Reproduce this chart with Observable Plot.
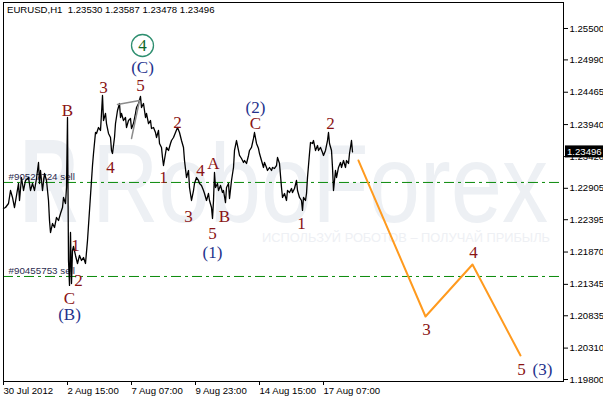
<!DOCTYPE html>
<html>
<head>
<meta charset="utf-8">
<script src="https://cdn.jsdelivr.net/npm/d3@7"></script>
<script src="https://cdn.jsdelivr.net/npm/@observablehq/plot@0.6"></script>
<style>
  body { margin: 0; background: #fff; }
  #chart { width: 603px; height: 400px; }
</style>
</head>
<body>
<div id="chart"></div>
<script>
// EURUSD H1 closes, one point per hourly bar index (0 = 30 Jul 2012 23:00)
const barIndex = [0,2,5,7,9,11,13,15,16,18,20,22,25,27,29,31,33,35,36,37,39,41,43,45,46,47,49,51,53,55,57,59,60,62,63,
  64,65,66,67,68,69,70,72,74,76,78,80,82,84,86,87,88,89,90,92,93,95,97,98,99,100,102,103,105,107,108,109,111,112,114,116,117,118,120,122,123,125,127,128,130,132,133,135,137,138,140,142,143,145,147,148,150,152,153,155,156,158,159,160,162,163,165,167,168,170,172,174,
  176,178,180,181,183,185,186,188,190,191,193,195,196,198,200,201,203,205,206,208,209,210,211,212,214,215,217,219,220,222,223,225,226,228,230,231,233,235,236,238,240,241,243,245,246,248,250,251,253,255,256,258,260,261,
  263,264,266,268,269,271,273,274,276,278,279,281,283,284,286,288,289,291,293,294,296,298,299,300,302,303,304,306,307,309,310,312,314,315,317,319,320,322,324,325,326,328,329,330,332,333,335,337,338,340,342,343,345,346,347,348,349];
const closePrice = [1.22577,1.22593,1.22658,1.22869,1.22756,1.22593,1.22788,1.22983,1.22707,1.23080,1.22869,1.23032,1.23080,1.22869,1.22983,1.22869,1.23064,1.23324,1.22983,1.23194,1.22869,1.23145,1.23032,1.22707,1.22382,1.22187,1.22333,1.22268,1.22431,1.22382,1.22496,1.22593,1.22756,1.22658,1.22918,
  1.24055,1.21733,1.21327,1.22187,1.21359,1.21895,1.21960,1.21814,1.21684,1.21814,1.21733,1.21781,1.21684,1.22057,1.22545,1.22788,1.23032,1.23275,1.23470,1.23811,1.23795,1.23892,1.23844,1.24120,1.24412,1.24006,1.24120,1.23957,1.23795,1.23730,1.23519,1.23470,1.23730,1.23957,1.24168,1.24282,1.24055,1.24120,1.24006,1.24055,1.23892,1.24006,1.24038,1.23876,1.23957,1.24120,1.24217,1.24282,1.24396,1.24217,1.24282,1.24055,1.24120,1.23957,1.24006,1.23876,1.23892,1.23811,1.23730,1.23844,1.23633,1.23568,1.23405,1.23275,1.23470,1.23568,1.23519,1.23633,1.23681,1.23730,1.23811,1.23892,
  1.23811,1.23681,1.23568,1.23356,1.23080,1.23194,1.22918,1.22707,1.22869,1.22983,1.23080,1.23032,1.22983,1.22951,1.22869,1.22821,1.22707,1.22821,1.22707,1.22593,1.22415,1.22707,1.23162,1.22918,1.22983,1.22869,1.22951,1.22837,1.22869,1.22674,1.22918,1.22983,1.22739,1.23032,1.23243,1.23519,1.23681,1.23519,1.23438,1.23389,1.23324,1.23356,1.23308,1.23438,1.23519,1.23568,1.23714,1.23811,1.23633,1.23551,1.23470,1.23356,1.23243,1.23324,
  1.23243,1.23194,1.23243,1.23194,1.23243,1.23227,1.23275,1.23405,1.23308,1.22918,1.22756,1.22821,1.22707,1.22869,1.22837,1.22902,1.22837,1.22902,1.23032,1.22869,1.22756,1.22707,1.22545,1.22756,1.22707,1.22821,1.23080,1.23470,1.23649,1.23633,1.23681,1.23519,1.23600,1.23519,1.23568,1.23486,1.23438,1.23519,1.23681,1.23811,1.23633,1.23519,1.23243,1.22869,1.23194,1.23080,1.23243,1.23324,1.23243,1.23356,1.23243,1.23356,1.23308,1.23470,1.23568,1.23681,1.23496];

// Forecast path of the next impulse leg
const forecastIndex = [355, 422, 469, 517];
const forecastPrice = [1.23356, 1.20823, 1.21668, 1.20190];

// Trend lines drawn near the wave 5 top
const trendIndex = [114, 136, 128];
const trendPrice = [1.24266, 1.24331, 1.23714];

// Pending sell orders
const orderPrice = [1.23000, 1.21473];
const orderText = ["#90527724 sell", "#90455753 sell"];

// Wave markings: position, text and degree
const waveIndex = [139, 137, 100, 64, 174, 252, 252, 327, 107, 160, 197, 210, 185, 221, 209, 209, 72, 75, 66, 66, 298, 423, 470, 518, 539];
const wavePrice = [1.24867, 1.24574, 1.24542, 1.24168, 1.23974, 1.24217, 1.23957, 1.23957, 1.23243, 1.23080, 1.23194, 1.23308, 1.22447, 1.22447, 1.22171, 1.21863, 1.21976, 1.21408, 1.21115, 1.20856, 1.22333, 1.20612, 1.21863, 1.19963, 1.19963];
const waveText = ["(C)", "5", "3", "B", "2", "(2)", "C", "2", "4", "1", "4", "A", "3", "B", "5", "(1)", "1", "2", "C", "(B)", "1", "3", "4", "5", "(3)"];
const waveDegree = ["minor", "minute", "minute", "minute", "minute", "minor", "minute", "minute", "minute", "minute", "minute", "minute", "minute", "minute", "minute", "minor", "minute", "minute", "minute", "minor", "minute", "minute", "minute", "minute", "minor"];

// Circled intermediate-degree label
const circledIndex = [139];
const circledPrice = [1.25224];
const circledText = ["4"];

// Price scale ticks and time scale ticks
const priceTicks = [1.25500, 1.24990, 1.24465, 1.23940, 1.23420, 1.22905, 1.22395, 1.21870, 1.21345, 1.20835, 1.20310, 1.19800];
const timeTickIndex = [0, 64, 128, 192, 256, 320];
const timeTickLabels = ["30 Jul 2012", "2 Aug 15:00", "7 Aug 07:00", "9 Aug 23:00", "14 Aug 15:00", "17 Aug 07:00"];

const symbolTitle = "EURUSD,H1  1.23530 1.23587 1.23478 1.23496";
const lastClose = 1.23496;

const series = barIndex.map((i, k) => ({i, p: closePrice[k]}));
const forecast = forecastIndex.map((i, k) => ({i, p: forecastPrice[k]}));
const trend = trendIndex.map((i, k) => ({i, p: trendPrice[k]}));
const orders = orderPrice.map((p, k) => ({p, t: orderText[k]}));
const waves = waveIndex.map((i, k) => ({i, p: wavePrice[k], t: waveText[k], d: waveDegree[k]}));
const circled = circledIndex.map((i, k) => ({i, p: circledPrice[k], t: circledText[k]}));

const waveColor = {minute: "#8a1414", minor: "#24318c"};
const serif = "'Liberation Serif', 'Times New Roman', serif";
const sans = "'Liberation Sans', Arial, sans-serif";

const chart = Plot.plot({
  width: 603,
  height: 400,
  marginTop: 2,
  marginBottom: 19,
  marginLeft: 3,
  marginRight: 40,
  style: {fontFamily: sans, fontSize: "9.6px", background: "#fff", color: "#000"},
  x: {domain: [0, 560], axis: null},
  y: {domain: [1.197676, 1.259222], axis: null},
  marks: [
    Plot.ruleY(orders, {y: "p", stroke: "#0a8a0a", strokeWidth: 1, strokeDasharray: "10,4,3,4"}),
    Plot.text(orders, {x: () => 5, y: "p", text: "t", textAnchor: "start", dy: -6, fill: "#2c2c50", fontSize: 9.8}),
    Plot.line(series, {x: "i", y: "p", stroke: "#000", strokeWidth: 1.3}),
    Plot.line(trend, {x: "i", y: "p", stroke: "#8c8c8c", strokeWidth: 1.5}),
    Plot.line(forecast, {x: "i", y: "p", stroke: "#ff9a1e", strokeWidth: 2}),
    Plot.dot(circled, {x: "i", y: "p", r: 11, stroke: "#2f8f70", strokeWidth: 1.3, fill: "none"}),
    Plot.text(circled, {x: "i", y: "p", text: "t", fill: "#0f6a2a", fontSize: 17, fontFamily: serif}),
    Plot.text(waves, {x: "i", y: "p", text: "t", fill: d => waveColor[d.d], fontSize: 17, fontFamily: serif}),
    Plot.frame({stroke: "#000", strokeWidth: 1}),
    Plot.axisY(priceTicks, {anchor: "right", label: null, tickSize: 4, tickPadding: 2, tickFormat: d => d.toFixed(5), fill: "#000"}),
    Plot.axisX(timeTickIndex, {anchor: "bottom", label: null, tickSize: 4, tickPadding: 2, textAnchor: "start",
      tickFormat: d => timeTickLabels[timeTickIndex.indexOf(d)], fill: "#000"})
  ]
});

document.getElementById("chart").appendChild(chart);

// Broker watermark behind the marks
const svg = d3.select(chart);
const wm = svg.insert("g", "g").attr("fill", "#edf0f4").attr("font-family", sans).attr("text-anchor", "start");
wm.append("text")
  .attr("x", 20).attr("y", 222)
  .attr("font-size", 118).attr("font-weight", "bold")
  .attr("textLength", 58).attr("lengthAdjust", "spacingAndGlyphs")
  .text("R");
wm.append("text")
  .attr("x", 92).attr("y", 222)
  .attr("font-size", 112)
  .attr("textLength", 456).attr("lengthAdjust", "spacingAndGlyphs")
  .text("RoboForex");
wm.append("text")
  .attr("x", 262).attr("y", 242)
  .attr("font-size", 13).attr("fill", "#eef0f4")
  .attr("textLength", 288).attr("lengthAdjust", "spacingAndGlyphs")
  .text("ИСПОЛЬЗУЙ РОБОТОВ – ПОЛУЧАЙ ПРИБЫЛЬ");

// Symbol caption in the top-left corner
svg.append("text")
  .attr("x", 7).attr("y", 13)
  .attr("text-anchor", "start")
  .attr("font-size", 9.6).attr("fill", "#000")
  .style("white-space", "pre")
  .text(symbolTitle);

// Current price marker on the price scale
const yPos = chart.scale("y").apply(lastClose);
const xRight = chart.scale("x").apply(560);
svg.append("rect")
  .attr("x", xRight + 2).attr("y", yPos - 6)
  .attr("width", 38).attr("height", 12)
  .attr("fill", "#000");
svg.append("text")
  .attr("x", xRight + 4).attr("y", yPos + 3.5)
  .attr("text-anchor", "start")
  .attr("font-size", 9.6).attr("fill", "#fff")
  .text(lastClose.toFixed(5));
</script>
</body>
</html>
